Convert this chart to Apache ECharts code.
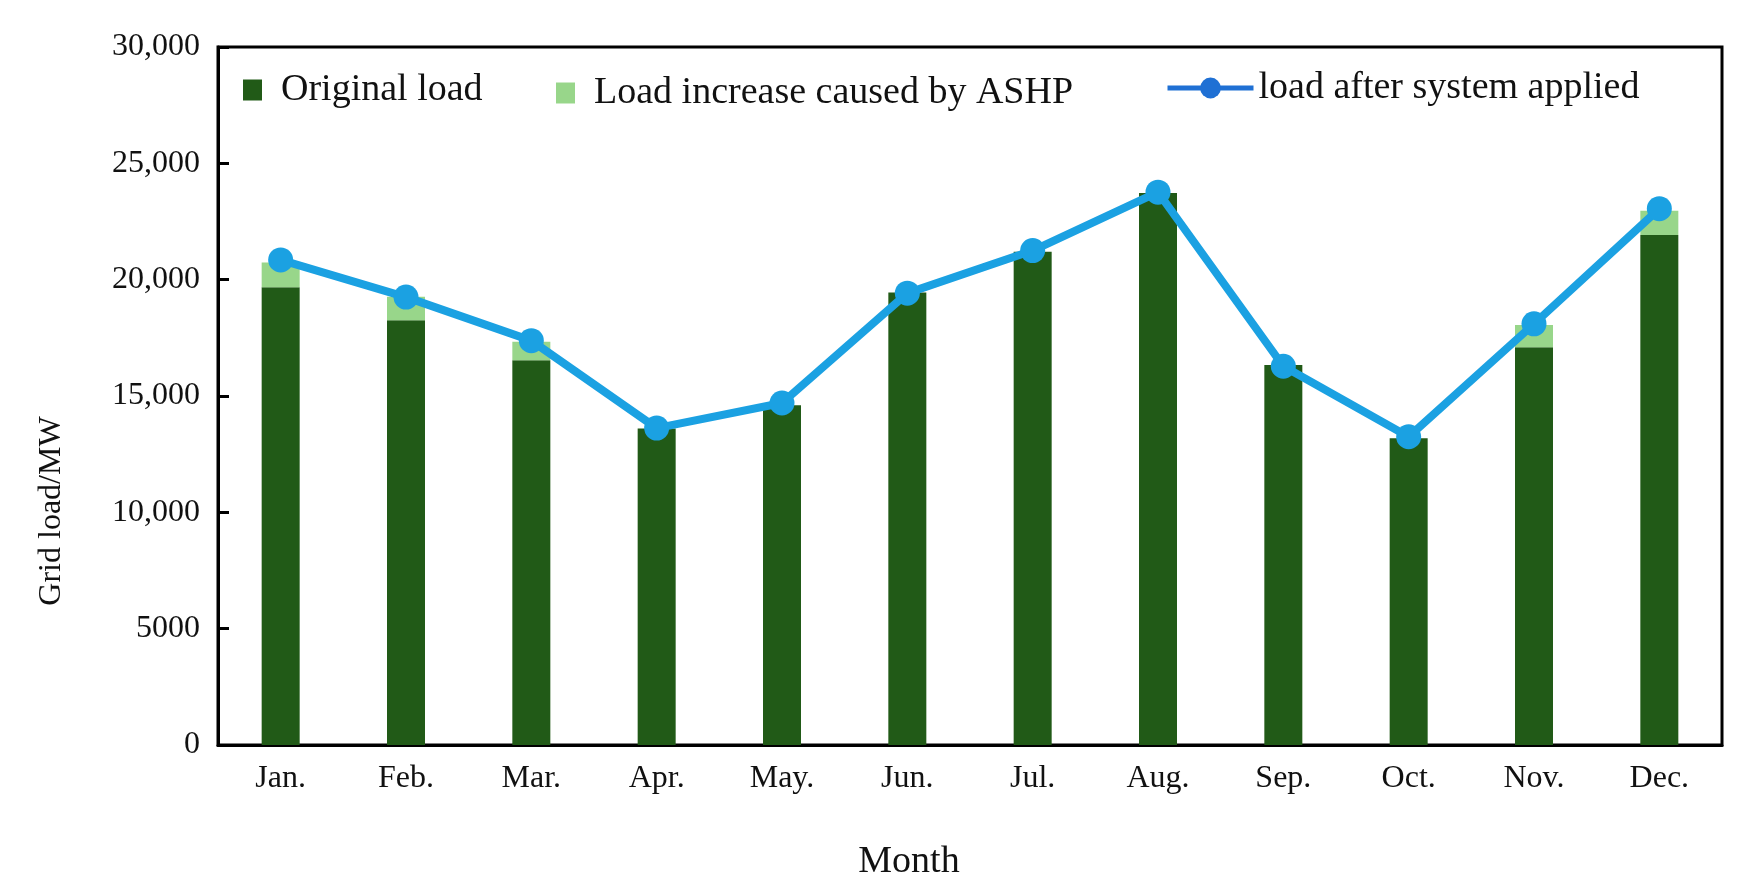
<!DOCTYPE html>
<html>
<head>
<meta charset="utf-8">
<script src="https://cdn.jsdelivr.net/npm/echarts@6/dist/echarts.min.js"></script>
<style>html,body{margin:0;padding:0;background:#fff}#c{width:1742px;height:891px}</style>
</head>
<body>
<div id="c"></div>
<script>
const months = ['Jan.', 'Feb.', 'Mar.', 'Apr.', 'May.', 'Jun.', 'Jul.', 'Aug.', 'Sep.', 'Oct.', 'Nov.', 'Dec.'];
const originalLoad = [19670, 18260, 16540, 13600, 14600, 19450, 21200, 23730, 16330, 13180, 17090, 21920];
const ashpIncrease = [1070, 1010, 790, 0, 0, 0, 0, 0, 0, 0, 960, 1040];
const loadAfterSystem = [20850, 19250, 17380, 13620, 14700, 19420, 21250, 23760, 16280, 13250, 18100, 23050];
const yTicks = [0, 5000, 10000, 15000, 20000, 25000, 30000];

const serif = '"Liberation Serif", "Times New Roman", serif';
const legendText = { fontFamily: serif, fontSize: 38, color: '#111', padding: [0, 0, 0, 14] };
const chart = echarts.init(document.getElementById('c'));
chart.setOption({
  animation: false,
  backgroundColor: '#fff',
  grid: { left: 218, right: 20, top: 47, bottom: 146, show: true, borderColor: '#000', borderWidth: 3, containLabel: false },
  legend: [
    { left: 238, top: 66, itemWidth: 19, itemHeight: 21, icon: 'rect', textStyle: legendText, data: ['Original load'] },
    { left: 551, top: 69, itemWidth: 19, itemHeight: 21, icon: 'rect', textStyle: legendText, data: ['Load increase caused by ASHP'] },
    { left: 1160, top: 64, itemWidth: 86, itemHeight: 26,
      textStyle: { fontFamily: serif, fontSize: 38, color: '#111', padding: [0, 0, 0, 0] },
      data: [{ name: 'load after system applied', itemStyle: { color: '#1f70d4' }, lineStyle: { color: '#1f70d4', width: 5 } }] }
  ],
  xAxis: {
    type: 'category',
    data: months,
    axisTick: { show: false },
    axisLine: { lineStyle: { color: '#000', width: 3 } },
    axisLabel: { fontFamily: serif, fontSize: 32, color: '#111', margin: 18 },
    name: 'Month',
    nameLocation: 'middle',
    nameGap: 98,
    nameTextStyle: { fontFamily: serif, fontSize: 38, color: '#111', padding: [0, 122, 0, 0] }
  },
  yAxis: {
    type: 'value',
    min: 0,
    max: 30000,
    interval: 5000,
    splitLine: { show: false },
    axisLine: { show: true, lineStyle: { color: '#000', width: 3 } },
    axisTick: { show: true, inside: true, length: 11, lineStyle: { color: '#000', width: 3 } },
    axisLabel: {
      fontFamily: serif, fontSize: 32, color: '#111', margin: 18,
      formatter: function (v) { return v >= 10000 ? v.toLocaleString('en-US') : String(v); }
    },
    name: 'Grid load/MW',
    nameLocation: 'middle',
    nameGap: 150,
    nameRotate: 90,
    nameTextStyle: { fontFamily: serif, fontSize: 32, color: '#111', padding: [0, 230, 0, 0] }
  },
  series: [
    { name: 'Original load', type: 'bar', stack: 'load', barWidth: 38, data: originalLoad, itemStyle: { color: '#215a17' } },
    { name: 'Load increase caused by ASHP', type: 'bar', stack: 'load', barWidth: 38, data: ashpIncrease, itemStyle: { color: '#98d68a' } },
    { name: 'load after system applied', type: 'line', data: loadAfterSystem, symbol: 'circle', symbolSize: 25,
      lineStyle: { color: '#1ba1e2', width: 8 }, itemStyle: { color: '#1ba1e2' }, z: 5 }
  ]
});
</script>
</body>
</html>
